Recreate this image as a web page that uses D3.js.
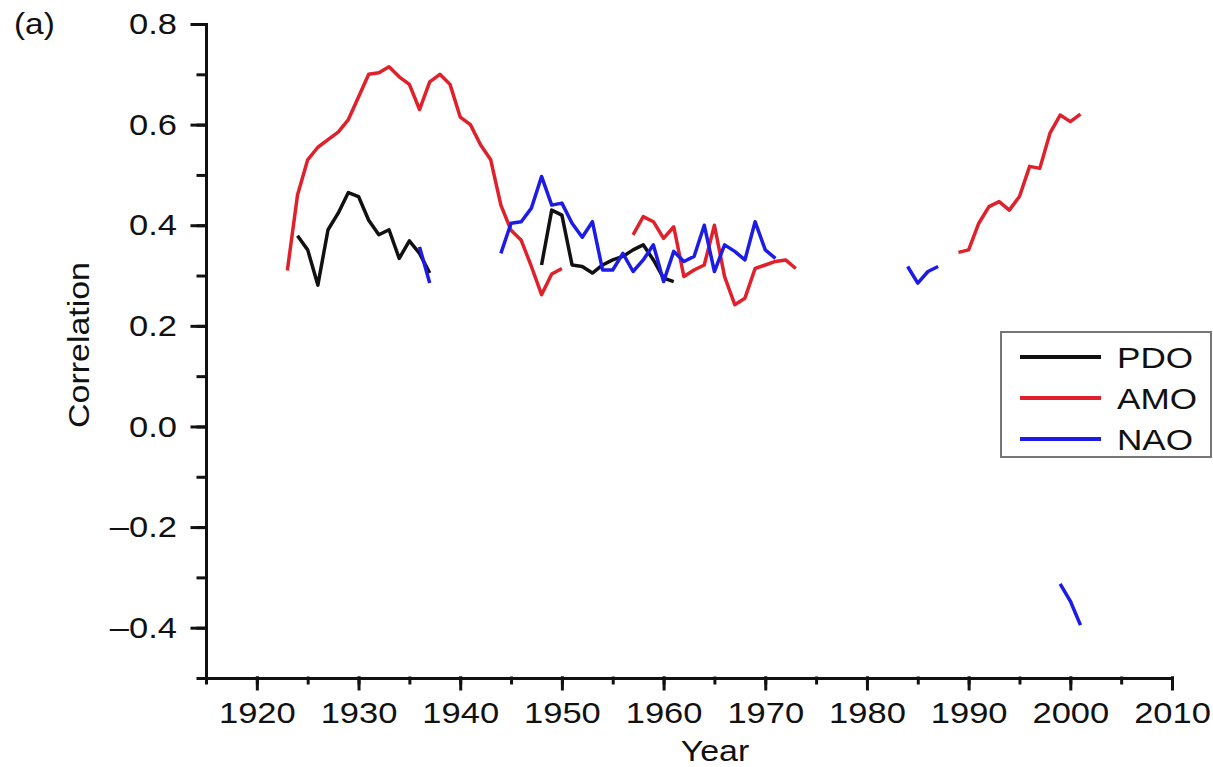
<!DOCTYPE html>
<html>
<head>
<meta charset="utf-8">
<script src="https://cdn.jsdelivr.net/npm/d3@7"></script>
<style>
  body { margin: 0; background: #fff; }
  svg { display: block; font-family: "Liberation Sans", Arial, sans-serif; }
</style>
</head>
<body>
<svg width="1213" height="767"></svg>
<script>
// data, one start year + annual values per unbroken piece
const pdoSegments = [
  { start: 1924, values: [0.379, 0.351, 0.281, 0.391, 0.424, 0.465, 0.457, 0.41, 0.381, 0.391, 0.334, 0.369, 0.344, 0.305] },
  { start: 1948, values: [0.321, 0.43, 0.42, 0.321, 0.318, 0.305, 0.321, 0.331, 0.338, 0.351, 0.361, 0.331, 0.295, 0.288] }
];
const amoSegments = [
  { start: 1923, values: [0.31, 0.46, 0.53, 0.555, 0.57, 0.585, 0.61, 0.655, 0.70, 0.703, 0.715, 0.695, 0.68, 0.63, 0.685, 0.70, 0.68, 0.615, 0.60, 0.56, 0.53, 0.44, 0.39, 0.37, 0.318, 0.262, 0.303, 0.314] },
  { start: 1957, values: [0.381, 0.417, 0.407, 0.374, 0.397, 0.298, 0.311, 0.321, 0.40, 0.298, 0.242, 0.255, 0.314, 0.321, 0.328, 0.331, 0.314] },
  { start: 1989, values: [0.346, 0.351, 0.404, 0.437, 0.447, 0.43, 0.457, 0.517, 0.513, 0.583, 0.619, 0.606, 0.621] }
];
const naoSegments = [
  { start: 1936, values: [0.357, 0.285] },
  { start: 1944, values: [0.344, 0.404, 0.407, 0.434, 0.497, 0.44, 0.444, 0.404, 0.376, 0.407, 0.311, 0.311, 0.344, 0.308, 0.331, 0.361, 0.288, 0.348, 0.328, 0.338, 0.40, 0.308, 0.361, 0.348, 0.331, 0.407, 0.351, 0.334] },
  { start: 1984, values: [0.318, 0.285, 0.308, 0.318] },
  { start: 1999, values: [-0.313, -0.347, -0.395] }
];

const seriesNames = ['PDO', 'AMO', 'NAO'];
const seriesColors = ['#111111', '#e0202a', '#1c1ce6'];
const xMajorTicks = d3.range(1920, 2011, 10);
const xMinorTicks = d3.range(1915, 2011, 5);
const yMajorTicks = [-0.4, -0.2, 0.0, 0.2, 0.4, 0.6, 0.8];
const yMinorTicks = d3.range(-5, 9).map(d => d / 10);

const svg = d3.select('svg');

let x = d3.scaleLinear().domain([1915, 2010]).range([206, 1172]);
let y = d3.scaleLinear().domain([-0.5, 0.8]).range([678, 24]);

// the printed labels are a bit wider than Arial, so stretch them
function widen(sel, k) {
  sel.each(function () {
    let w = this.getComputedTextLength();
    d3.select(this).attr('textLength', w * k).attr('lengthAdjust', 'spacingAndGlyphs');
  });
}

function styleAxis(g) {
  g.attr('font-size', null).attr('font-family', null);
  g.selectAll('path, line').attr('stroke', '#111').attr('stroke-width', 3).attr('stroke-linecap', 'square');
  g.selectAll('text').attr('font-size', 30).attr('fill', '#111');
}

// x axis: minor then major with labels
svg.append('g')
  .attr('transform', 'translate(0,678)')
  .call(d3.axisBottom(x).tickValues(xMinorTicks).tickSize(5).tickSizeOuter(0).tickFormat(''))
  .call(styleAxis);
let xAxis = svg.append('g')
  .attr('transform', 'translate(0,678)')
  .call(d3.axisBottom(x).tickValues(xMajorTicks).tickSize(11).tickSizeOuter(0).tickPadding(13).tickFormat(d3.format('d')))
  .call(styleAxis);
widen(xAxis.selectAll('text'), 1.15);

// y axis
svg.append('g')
  .attr('transform', 'translate(206,0)')
  .call(d3.axisLeft(y).tickValues(yMinorTicks).tickSize(8).tickSizeOuter(0).tickFormat(''))
  .call(styleAxis);
let yAxis = svg.append('g')
  .attr('transform', 'translate(206,0)')
  .call(d3.axisLeft(y).tickValues(yMajorTicks).tickSize(14).tickSizeOuter(0).tickPadding(15)
    .tickFormat(d => (d < 0 ? '\u2013' : '') + d3.format('.1f')(Math.abs(d))))
  .call(styleAxis);
widen(yAxis.selectAll('text'), 1.15);

// lines
let line = d3.line().x(d => x(d.year)).y(d => y(d.value));

[pdoSegments, amoSegments, naoSegments].forEach((segs, i) => {
  segs.forEach(seg => {
    let pts = seg.values.map((v, j) => ({ year: seg.start + j, value: v }));
    svg.append('path')
      .datum(pts)
      .attr('d', line)
      .attr('fill', 'none')
      .attr('stroke', seriesColors[i])
      .attr('stroke-width', 3.5)
      .attr('stroke-linejoin', 'round');
  });
});

// axis titles and panel label
let titles = svg.append('g').attr('fill', '#111');
let yTitle = titles.append('text')
  .attr('transform', 'translate(89,345) rotate(-90)')
  .attr('text-anchor', 'middle')
  .attr('font-size', 30)
  .text('Correlation');
let xTitle = titles.append('text')
  .attr('x', 715).attr('y', 761)
  .attr('text-anchor', 'middle')
  .attr('font-size', 30)
  .text('Year');
let panel = titles.append('text')
  .attr('x', 14).attr('y', 34)
  .attr('font-size', 29)
  .text('(a)');
widen(yTitle, 1.13);
widen(xTitle, 1.13);
widen(panel, 1.15);

// legend
let legend = svg.append('g');
legend.append('rect')
  .attr('x', 1001).attr('y', 332)
  .attr('width', 210).attr('height', 125)
  .attr('fill', '#fff')
  .attr('stroke', '#777')
  .attr('stroke-width', 2);
seriesNames.forEach((name, i) => {
  let ly = 357 + i * 41;
  legend.append('line')
    .attr('x1', 1020).attr('x2', 1101)
    .attr('y1', ly).attr('y2', ly)
    .attr('stroke', seriesColors[i])
    .attr('stroke-width', 4);
  let t = legend.append('text')
    .attr('x', 1117).attr('y', ly + 11)
    .attr('font-size', 30)
    .attr('fill', '#111')
    .text(name);
  widen(t, 1.17);
});
</script>
</body>
</html>
